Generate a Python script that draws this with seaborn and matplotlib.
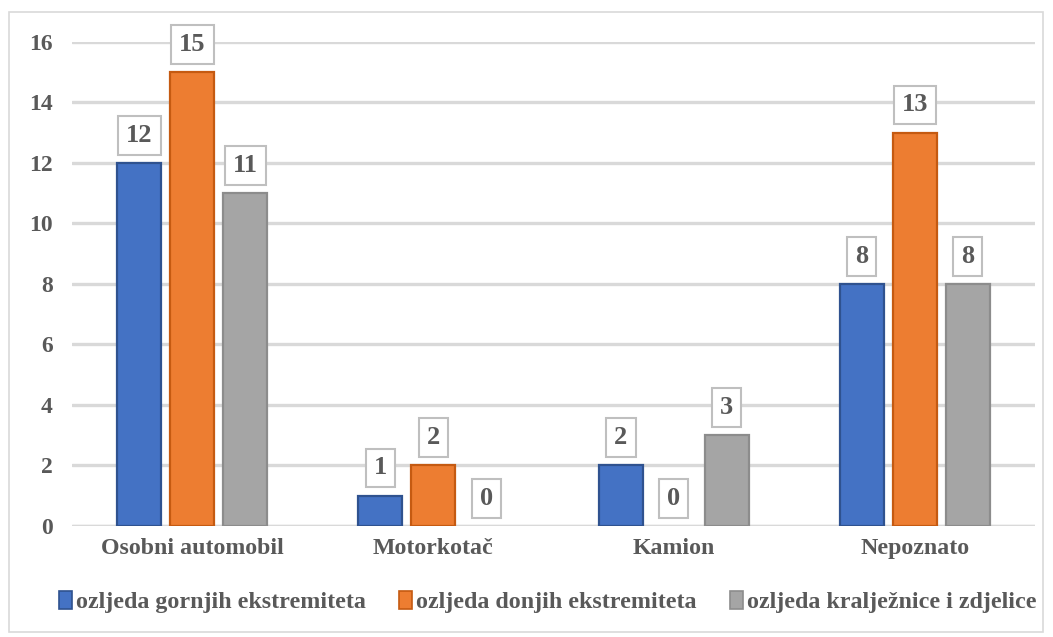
import matplotlib
matplotlib.use("Agg")
import matplotlib.pyplot as plt
import seaborn as sns
import pandas as pd
from matplotlib.patches import Rectangle

# data
CATEGORIES = ["Osobni automobil", "Motorkotač", "Kamion", "Nepoznato"]
SERIES = ["ozljeda gornjih ekstremiteta", "ozljeda donjih ekstremiteta",
          "ozljeda kralježnice i zdjelice"]
upper = [12, 1, 2, 8]
lower = [15, 2, 0, 13]
spine = [11, 0, 3, 8]

COLORS = ["#4472C4", "#ED7D31", "#A5A5A5"]
EDGES = ["#2F528F", "#C55A11", "#8C8C8C"]
TXT = "#595959"

rows = []
for s, vals in zip(SERIES, [upper, lower, spine]):
    for c, v in zip(CATEGORIES, vals):
        rows.append({"kategorija": c, "ozljeda": s, "broj": v})
df = pd.DataFrame(rows)

sns.set_theme(style="white")
plt.rcParams["font.family"] = ["Liberation Serif", "DejaVu Serif"]
plt.rcParams["font.weight"] = "bold"

fig = plt.figure(figsize=(10.53, 6.37), dpi=100)
ax = fig.add_axes([0.0684, 0.1743, 0.9146, 0.7598])

sns.barplot(data=df, x="kategorija", y="broj", hue="ozljeda", order=CATEGORIES,
            hue_order=SERIES, palette=COLORS, saturation=1, width=0.66, gap=0.17,
            ax=ax, legend=False, zorder=3)

# edge colors per series, no outline on empty bars
for cont, ec in zip(ax.containers, EDGES):
    for bar in cont:
        if bar.get_height() > 0:
            bar.set_edgecolor(ec)
            bar.set_linewidth(1.6)
        else:
            bar.set_linewidth(0)

# data labels in boxes
for cont in ax.containers:
    for bar in cont:
        h = bar.get_height()
        x = bar.get_x() + bar.get_width() / 2
        ax.annotate(f"{int(h)}", (x, h), xytext=(0, 20), textcoords="offset points",
                    ha="center", va="center", fontsize=19, fontweight="bold", color=TXT,
                    bbox=dict(boxstyle="square,pad=0.3", fc="white", ec="#BFBFBF", lw=1.5),
                    zorder=5)

ax.set_ylim(0, 16)
ax.set_yticks(range(0, 17, 2))
ax.set_xlim(-0.5, 3.5)
ax.yaxis.grid(True, color="#D9D9D9", linewidth=2.4, zorder=0)
ax.set_axisbelow(True)
for s in ax.spines.values():
    s.set_visible(False)
ax.axhline(0, color="#D9D9D9", linewidth=2.4, zorder=1)
ax.set_xlabel("")
ax.set_ylabel("")
ax.tick_params(axis="y", length=0, pad=14, labelsize=17, labelcolor=TXT)
ax.tick_params(axis="x", length=0, pad=9, labelsize=17.2, labelcolor=TXT)
for t in ax.get_xticklabels() + ax.get_yticklabels():
    t.set_fontweight("bold")

handles = [Rectangle((0, 0), 1, 1, fc=c, ec=e, lw=1.2) for c, e in zip(COLORS, EDGES)]
leg = fig.legend(handles, SERIES, loc="center", bbox_to_anchor=(0.52, 0.055), ncol=3,
                 frameon=False, handlelength=0.55, handleheight=0.8, handletextpad=0.15,
                 columnspacing=1.4, prop={"size": 17.3, "weight": "bold"})
for t in leg.get_texts():
    t.set_color(TXT)

# outer chart border
fig.patches.append(Rectangle((9 / 1053, 5 / 637), 1034 / 1053, 620 / 637,
                             transform=fig.transFigure, fill=False, ec="#D9D9D9", lw=1.2))

fig.savefig("out.png", dpi=100)
